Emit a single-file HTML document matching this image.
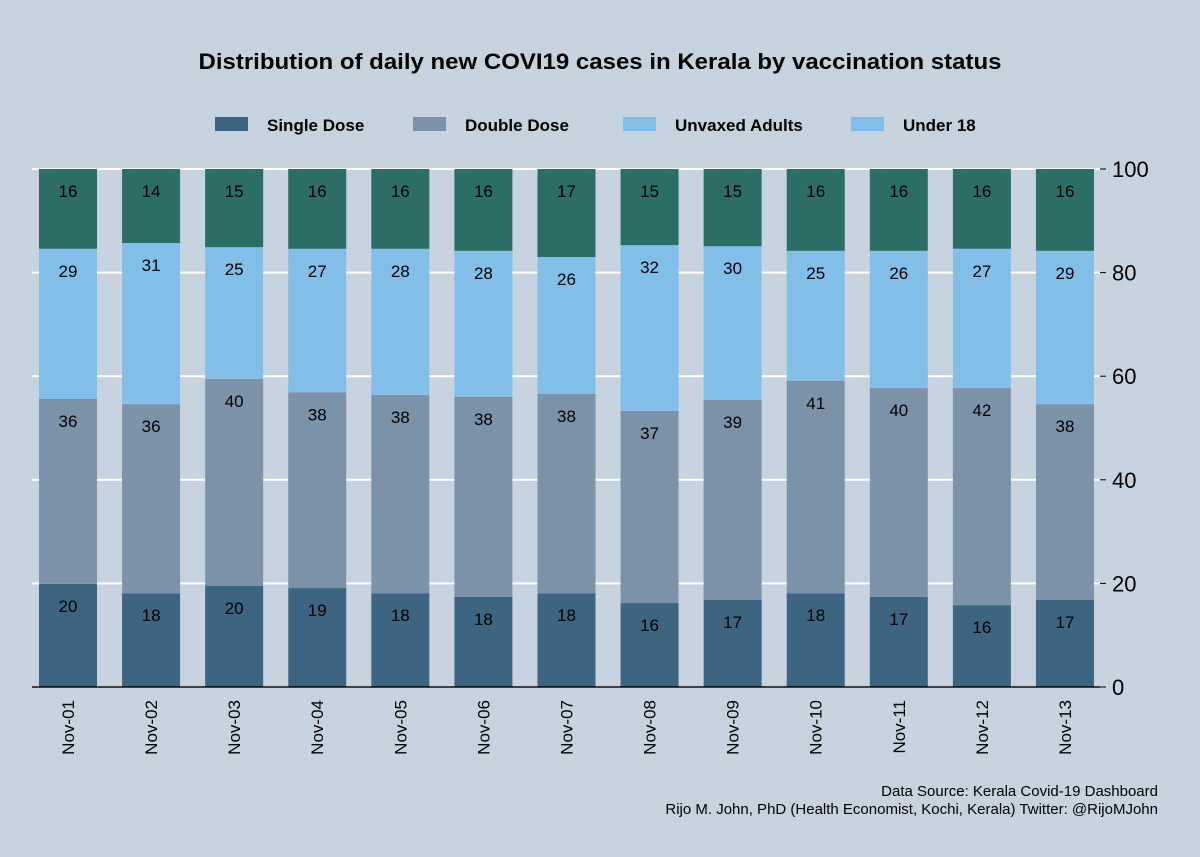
<!DOCTYPE html>
<html><head><meta charset="utf-8"><style>
body{margin:0;background:#c6d3de;}
svg{display:block;font-family:"Liberation Sans",sans-serif;}
</style></head><body>
<svg id="chart" width="1200" height="857">
<rect width="1200" height="857" fill="#c6d3de"/>
<text x="600" y="69" text-anchor="middle" font-size="22" font-weight="bold" textLength="803" lengthAdjust="spacingAndGlyphs">Distribution of daily new COVI19 cases in Kerala by vaccination status</text>
<g id="legend"></g>
<g id="grid"></g>
<g id="bars"></g>
<g id="yaxis"></g>
<g id="xaxis"></g>
<text x="1158" y="796" text-anchor="end" font-size="15">Data Source: Kerala Covid-19 Dashboard</text>
<text x="1158" y="814" text-anchor="end" font-size="15">Rijo M. John, PhD (Health Economist, Kochi, Kerala) Twitter: @RijoMJohn</text>
</svg>
<script>
const categories=["Nov-01","Nov-02","Nov-03","Nov-04","Nov-05","Nov-06","Nov-07","Nov-08","Nov-09","Nov-10","Nov-11","Nov-12","Nov-13"];
const singleDose=[19.9,18.1,19.5,19.1,18.1,17.4,18.1,16.2,16.8,18.1,17.4,15.8,16.8];
const doubleDose=[35.7,36.5,40.0,37.8,38.3,38.6,38.5,37.1,38.6,41.0,40.3,41.9,37.8];
const unvaxAdults=[29.0,31.1,25.4,27.7,28.2,28.2,26.4,32.0,29.7,25.1,26.5,26.9,29.6];
const under18=[15.4,14.3,15.1,15.4,15.4,15.8,17.0,14.7,14.9,15.8,15.8,15.4,15.8];
const singleLabels=[20,18,20,19,18,18,18,16,17,18,17,16,17];
const doubleLabels=[36,36,40,38,38,38,38,37,39,41,40,42,38];
const unvaxLabels=[29,31,25,27,28,28,26,32,30,25,26,27,29];
const under18Labels=[16,14,15,16,16,16,17,15,15,16,16,16,16];
const yTicks=[0,20,40,60,80,100];
const seriesNames=["Single Dose","Double Dose","Unvaxed Adults","Under 18"];

const NS="http://www.w3.org/2000/svg";
const x0=32,x1=1100,yBase=687,yTop=169;
const y=v=>yBase-(v/100)*(yBase-yTop);
const step=83.08;
const xc=i=>68+step*i;
const bw=58;
function mk(tag,attrs,parent,txt){const e=document.createElementNS(NS,tag);for(const k in attrs)e.setAttribute(k,attrs[k]);if(txt!==undefined)e.textContent=txt;parent.appendChild(e);return e;}
const grid=document.getElementById('grid'),bars=document.getElementById('bars'),ya=document.getElementById('yaxis'),xa=document.getElementById('xaxis'),lg=document.getElementById('legend');
yTicks.forEach(t=>{
 const l=mk('line',{x1:x0,x2:x1,y1:y(t),y2:y(t),stroke:'#fff','stroke-width':2},grid);
 
 
 const tk=mk('line',{x1:x1,x2:x1+6,y1:y(t),y2:y(t),stroke:'#000','stroke-width':1},ya);
 
 
 const tx=mk('text',{x:x1+12,y:y(t)+8,'font-size':22},ya,t);
 
 
});
const series=[[singleDose,singleLabels,'#3d6480','single-dose'],[doubleDose,doubleLabels,'#7b92a8','double-dose'],[unvaxAdults,unvaxLabels,'#82bfe8','unvaxed-adults'],[under18,under18Labels,'#2c6e65','under-18']];
categories.forEach((c,i)=>{
 let cum=0;
 series.forEach(s=>{
  const v=s[0][i];const top=cum+v;
  const r=mk('rect',{x:xc(i)-bw/2,y:y(top),width:bw,height:y(cum)-y(top),fill:s[2]},bars);
  
  
  const t=mk('text',{x:xc(i),y:y(top)+28,'text-anchor':'middle','font-size':17},bars,s[1][i]);
  
  
  cum=top;
 });
 const xl=mk('text',{transform:`translate(${xc(i)+6},700) rotate(-90)`,'text-anchor':'end','font-size':17},xa,c);
 
 
});
const base=mk('line',{x1:x0,x2:x1,y1:yBase,y2:yBase,stroke:'#000','stroke-width':1.5},xa);


const legX=[215,413,623,851],legCol=['#3d6480','#7b92a8','#82bfe8','#82bfe8'];
seriesNames.forEach((n,i)=>{
 const r=mk('rect',{x:legX[i],y:117,width:33,height:14,fill:legCol[i]},lg);
 
 
 const t=mk('text',{x:legX[i]+52,y:131,'font-size':17,'font-weight':'bold'},lg,n);
 
 
});
</script>
</body></html>
